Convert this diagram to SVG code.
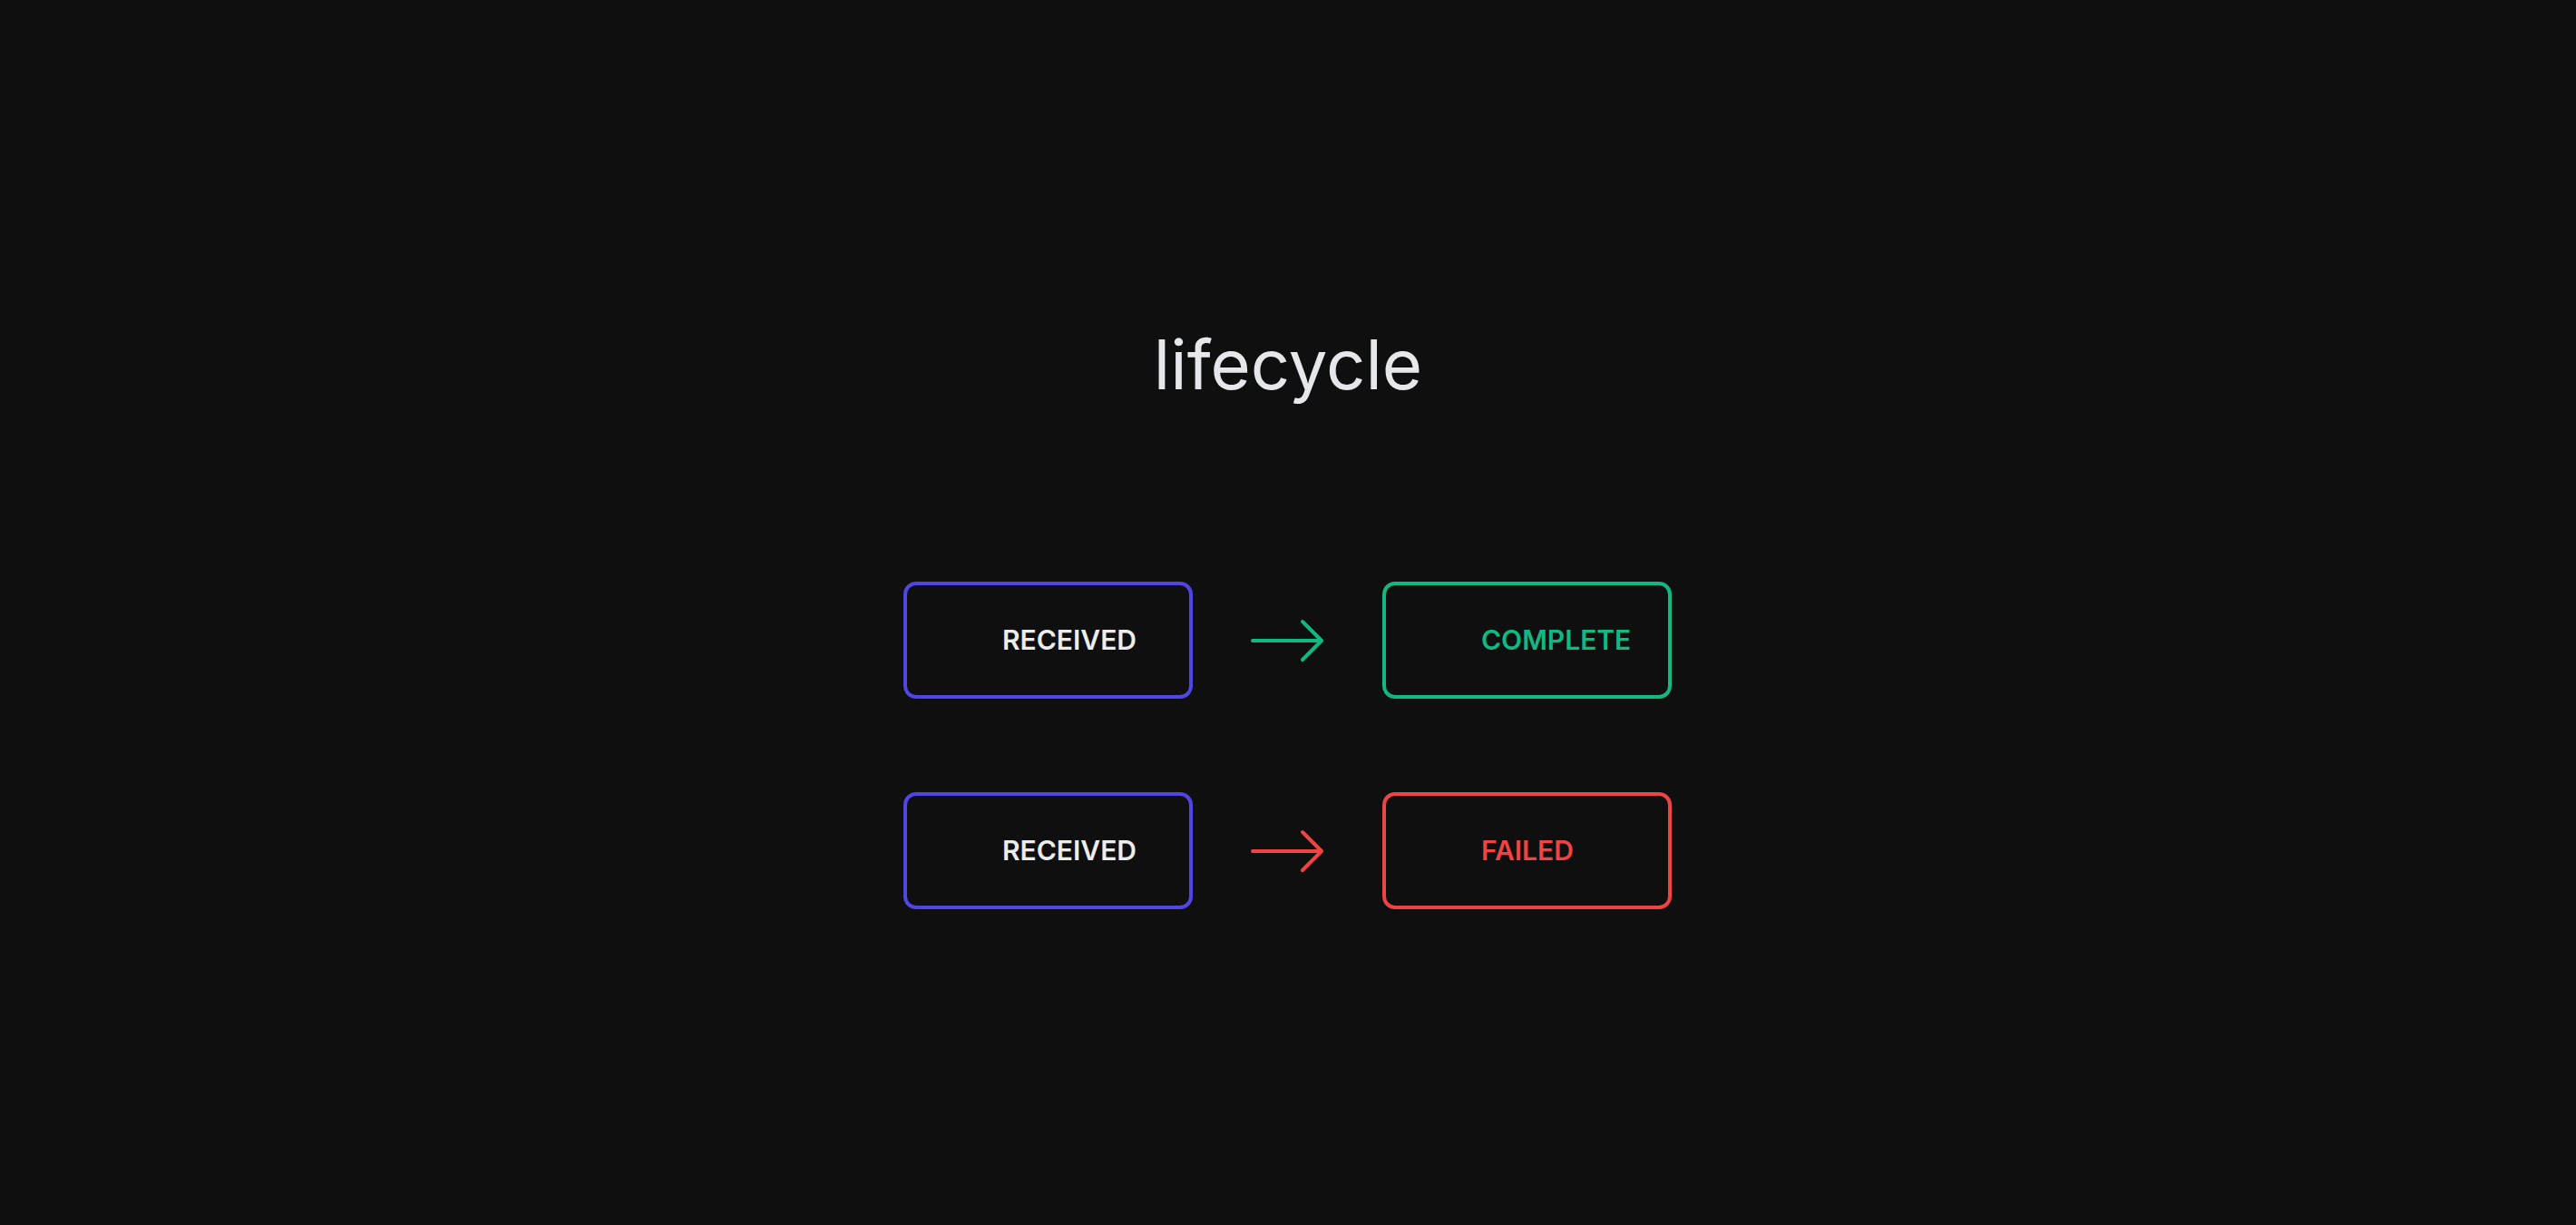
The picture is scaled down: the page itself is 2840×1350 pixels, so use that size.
<svg xmlns="http://www.w3.org/2000/svg" width="2840" height="1350" viewBox="0 0 2840 1350">
<style>
.bg{fill:#0f0f0f}
.title{font-family:Inter,"Noto Sans","Liberation Sans",sans-serif;font-size:76px;font-weight:400;fill:#e5e7eb}
.box{fill:none;stroke-width:4}
.lbl{font-family:Inter,"Noto Sans","Liberation Sans",sans-serif;font-size:30px;font-weight:600;letter-spacing:0px}
.conn{fill:none;stroke-width:4;stroke-linecap:round;stroke-linejoin:round}
</style>
<rect class="bg" x="0" y="0" width="2840" height="1350"/>
<text class="title" x="1420" y="429" text-anchor="middle">lifecycle</text>
<g id="received-1">
<rect class="box" x="998" y="643" width="315" height="125" rx="12" stroke="#4f46e5"/>
<text class="lbl" x="1105" y="716" fill="#ececec">RECEIVED</text>
</g>
<g id="complete">
<rect class="box" x="1526" y="643" width="315" height="125" rx="12" stroke="#10b981"/>
<text class="lbl" x="1633" y="716" fill="#10b981">COMPLETE</text>
</g>
<g id="received-2">
<rect class="box" x="998" y="875" width="315" height="125" rx="12" stroke="#4f46e5"/>
<text class="lbl" x="1105" y="948" fill="#ececec">RECEIVED</text>
</g>
<g id="failed">
<rect class="box" x="1526" y="875" width="315" height="125" rx="12" stroke="#ef4444"/>
<text class="lbl" x="1633" y="948" fill="#ef4444">FAILED</text>
</g>
<g id="connectors">
<path class="conn" stroke="#10b981" d="M1381 706 H1457 M1436 685 L1457 706 L1436 727"/>
<path class="conn" stroke="#ef4444" d="M1381 938 H1457 M1436 917 L1457 938 L1436 959"/>
</g>
</svg>
